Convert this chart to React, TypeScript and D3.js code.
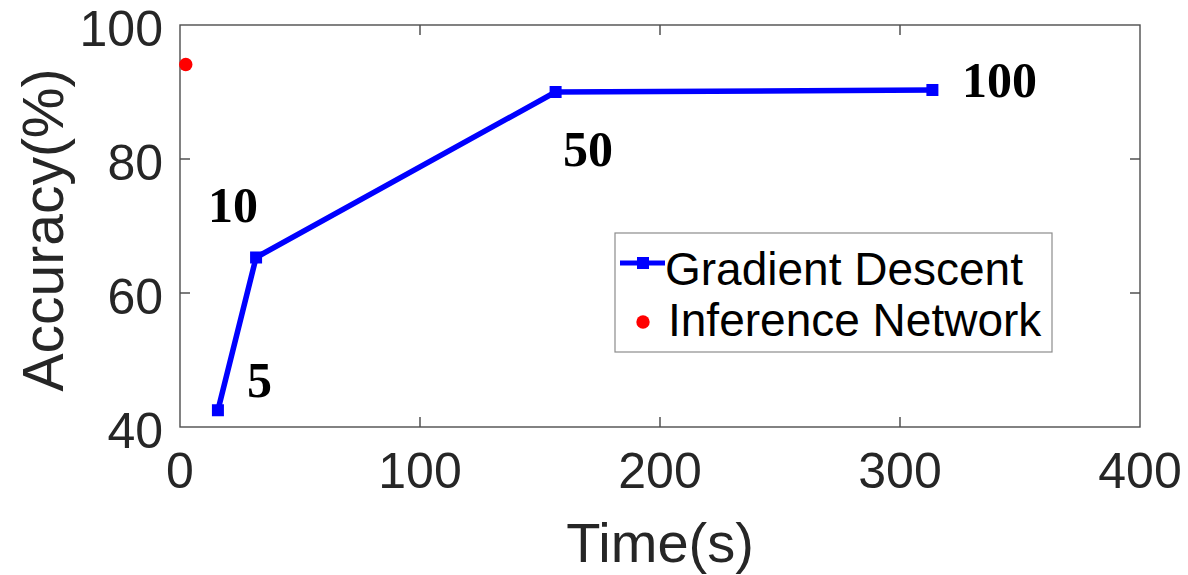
import { useEffect, useRef } from 'react';
import * as d3 from 'd3';

// Gradient descent: time (s) vs accuracy (%), labelled by iteration count
const gdIters = ['5', '10', '50', '100'];
const gdTime = [15.8, 31.7, 156.5, 313.5];
const gdAcc = [42.5, 65.3, 90.0, 90.3];

// Inference network: single point
const infTime = [2.4];
const infAcc = [94.1];

// where the iteration labels sit (data coords)
const labelTime = [27.9, 11.7, 159.6, 325.8];
const labelAcc = [44.5, 70.6, 78.9, 89.2];

const xTicks = [0, 100, 200, 300, 400];
const yTicks = [40, 60, 80, 100];

const App = () => {
  const svgRef = useRef<SVGSVGElement>(null);

  useEffect(() => {
    if (!svgRef.current) return;
    const left = 180, right = 1140, top = 25, bottom = 427;

    d3.select(svgRef.current).selectAll('*').remove();
    const svg = d3.select(svgRef.current);

    const x = d3.scaleLinear().domain([0, 400]).range([left, right]);
    const y = d3.scaleLinear().domain([40, 100]).range([bottom, top]);

    const sans = 'Liberation Sans, Arial, Helvetica, sans-serif';
    const axisColor = '#262626';

    // ticks (inward, all four sides)
    const tickLen = 10;
    const tg = svg.append('g').attr('stroke', axisColor).attr('stroke-width', 1.2);
    xTicks.slice(1, -1).forEach(t => {
      tg.append('line').attr('x1', x(t)).attr('x2', x(t)).attr('y1', bottom).attr('y2', bottom - tickLen);
      tg.append('line').attr('x1', x(t)).attr('x2', x(t)).attr('y1', top).attr('y2', top + tickLen);
    });
    yTicks.slice(1, -1).forEach(t => {
      tg.append('line').attr('x1', left).attr('x2', left + tickLen).attr('y1', y(t)).attr('y2', y(t));
      tg.append('line').attr('x1', right).attr('x2', right - tickLen).attr('y1', y(t)).attr('y2', y(t));
    });

    // box
    svg.append('rect')
      .attr('x', left).attr('y', top)
      .attr('width', right - left).attr('height', bottom - top)
      .attr('fill', 'none').attr('stroke', '#4d4d4d').attr('stroke-width', 1.4);

    // tick labels
    svg.append('g').selectAll('text').data(xTicks).enter().append('text')
      .attr('x', d => x(d)).attr('y', 488)
      .attr('text-anchor', 'middle')
      .style('font-family', sans).style('font-size', '50px').style('fill', axisColor)
      .text(d => d);

    svg.append('g').selectAll('text').data(yTicks).enter().append('text')
      .attr('x', 163).attr('y', d => y(d) + 21)
      .attr('text-anchor', 'end')
      .style('font-family', sans).style('font-size', '50px').style('fill', axisColor)
      .text(d => d);

    // axis titles
    svg.append('text')
      .attr('x', x(200)).attr('y', 562)
      .attr('text-anchor', 'middle')
      .style('font-family', sans).style('font-size', '56px').style('fill', axisColor)
      .text('Time(s)');

    svg.append('text')
      .attr('transform', `translate(63,${(top + bottom) / 2 + 4}) rotate(-90)`)
      .attr('text-anchor', 'middle')
      .style('font-family', sans).style('font-size', '57px').style('fill', axisColor)
      .text('Accuracy(%)');

    // gradient descent line
    const pts = gdTime.map((t, i) => [t, gdAcc[i]] as [number, number]);
    const line = d3.line<[number, number]>().x(d => x(d[0])).y(d => y(d[1]));
    svg.append('path')
      .datum(pts)
      .attr('d', line)
      .attr('fill', 'none').attr('stroke', '#0000ff').attr('stroke-width', 5.5)
      .attr('stroke-linejoin', 'round');

    svg.append('g').selectAll('rect').data(pts).enter().append('rect')
      .attr('x', d => x(d[0]) - 6).attr('y', d => y(d[1]) - 6)
      .attr('width', 12).attr('height', 12)
      .attr('fill', '#0000ff');

    // inference network
    svg.append('g').selectAll('circle').data(infTime).enter().append('circle')
      .attr('cx', d => x(d)).attr('cy', (d, i) => y(infAcc[i]))
      .attr('r', 6.7).attr('fill', '#ff0000');

    // iteration labels
    svg.append('g').selectAll('text').data(gdIters).enter().append('text')
      .attr('x', (d, i) => x(labelTime[i])).attr('y', (d, i) => y(labelAcc[i]))
      .style('font-family', 'Liberation Serif, Times New Roman, serif')
      .style('font-weight', 'bold').style('font-size', '50px').style('fill', '#000')
      .text(d => d);

    // legend
    const lg = svg.append('g');
    lg.append('rect')
      .attr('x', 615).attr('y', 233).attr('width', 437).attr('height', 119)
      .attr('fill', '#fff').attr('stroke', '#8c8c8c').attr('stroke-width', 1.2);
    lg.append('line')
      .attr('x1', 620).attr('x2', 665).attr('y1', 263).attr('y2', 263)
      .attr('stroke', '#0000ff').attr('stroke-width', 5);
    lg.append('rect')
      .attr('x', 637).attr('y', 257).attr('width', 12).attr('height', 12)
      .attr('fill', '#0000ff');
    lg.append('circle').attr('cx', 643).attr('cy', 322).attr('r', 6.7).attr('fill', '#ff0000');
    lg.append('text')
      .attr('x', 665).attr('y', 285)
      .style('font-family', sans).style('font-size', '46px').style('fill', '#000')
      .text('Gradient Descent');
    lg.append('text')
      .attr('x', 668).attr('y', 336)
      .style('font-family', sans).style('font-size', '46px').style('fill', '#000')
      .text('Inference Network');
  }, []);

  return (
    <svg
      ref={svgRef}
      width={1188}
      height={575}
      style={{ position: 'absolute', left: 0, top: 0, background: '#fff' }}
    />
  );
};

export default App;
